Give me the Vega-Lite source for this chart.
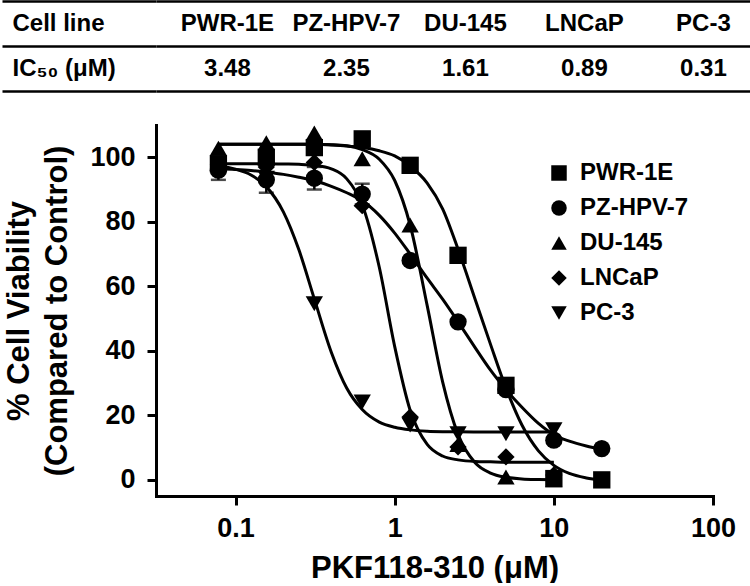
{
  "$schema": "https://vega.github.io/schema/vega-lite/v6.json",
  "padding": {"left": 0, "top": -11, "right": 0, "bottom": 0},
  "background": "white",
  "spacing": 32,
  "config": {
    "view": {"stroke": null},
    "font": "Liberation Sans",
    "axis": {
      "labelFont": "Liberation Sans",
      "titleFont": "Liberation Sans",
      "labelFontWeight": "bold",
      "titleFontWeight": "bold",
      "labelColor": "black",
      "titleColor": "black",
      "domainColor": "black",
      "tickColor": "black",
      "grid": false
    },
    "legend": {"labelFont": "Liberation Sans"}
  },
  "resolve": {"scale": {"shape": "independent"}, "legend": {"shape": "independent"}},
  "datasets": {
    "table": [
      {"row": "Cell line", "col": "PWR-1E", "label": "PWR-1E"},
      {"row": "Cell line", "col": "PZ-HPV-7", "label": "PZ-HPV-7"},
      {"row": "Cell line", "col": "DU-145", "label": "DU-145"},
      {"row": "Cell line", "col": "LNCaP", "label": "LNCaP"},
      {"row": "Cell line", "col": "PC-3", "label": "PC-3"},
      {"row": "IC₅₀ (μM)", "col": "PWR-1E", "label": "3.48"},
      {"row": "IC₅₀ (μM)", "col": "PZ-HPV-7", "label": "2.35"},
      {"row": "IC₅₀ (μM)", "col": "DU-145", "label": "1.61"},
      {"row": "IC₅₀ (μM)", "col": "LNCaP", "label": "0.89"},
      {"row": "IC₅₀ (μM)", "col": "PC-3", "label": "0.31"}
    ],
    "points": [
      {"line": "PWR-1E", "conc": 0.078, "v": 98, "err": 0},
      {"line": "PWR-1E", "conc": 0.156, "v": 100, "err": 0},
      {"line": "PWR-1E", "conc": 0.3125, "v": 103, "err": 0},
      {"line": "PWR-1E", "conc": 0.625, "v": 105.7, "err": 0},
      {"line": "PWR-1E", "conc": 1.25, "v": 97.5, "err": 0},
      {"line": "PWR-1E", "conc": 2.5, "v": 69.6, "err": 0},
      {"line": "PWR-1E", "conc": 5, "v": 29.3, "err": 0},
      {"line": "PWR-1E", "conc": 10, "v": 0.4, "err": 0},
      {"line": "PWR-1E", "conc": 20, "v": 0, "err": 0},
      {"line": "DU-145", "conc": 0.078, "v": 102.8, "err": 0},
      {"line": "DU-145", "conc": 0.156, "v": 104.5, "err": 0},
      {"line": "DU-145", "conc": 0.3125, "v": 107.5, "err": 0},
      {"line": "DU-145", "conc": 0.625, "v": 99.5, "err": 0},
      {"line": "DU-145", "conc": 1.25, "v": 79, "err": 0},
      {"line": "DU-145", "conc": 2.5, "v": 11, "err": 0},
      {"line": "DU-145", "conc": 5, "v": 0.9, "err": 0},
      {"line": "DU-145", "conc": 10, "v": 0, "err": 0},
      {"line": "PZ-HPV-7", "conc": 0.078, "v": 96, "err": 3},
      {"line": "PZ-HPV-7", "conc": 0.156, "v": 93, "err": 4},
      {"line": "PZ-HPV-7", "conc": 0.3125, "v": 93.5, "err": 3.5},
      {"line": "PZ-HPV-7", "conc": 0.625, "v": 88.6, "err": 3.2},
      {"line": "PZ-HPV-7", "conc": 1.25, "v": 68, "err": 0},
      {"line": "PZ-HPV-7", "conc": 2.5, "v": 49, "err": 0},
      {"line": "PZ-HPV-7", "conc": 5, "v": 28, "err": 0},
      {"line": "PZ-HPV-7", "conc": 10, "v": 12.3, "err": 0},
      {"line": "PZ-HPV-7", "conc": 20, "v": 9.7, "err": 0},
      {"line": "LNCaP", "conc": 0.078, "v": 96.5, "err": 0},
      {"line": "LNCaP", "conc": 0.156, "v": 97, "err": 0},
      {"line": "LNCaP", "conc": 0.3125, "v": 98.4, "err": 0},
      {"line": "LNCaP", "conc": 0.625, "v": 85, "err": 0},
      {"line": "LNCaP", "conc": 1.25, "v": 19.5, "err": 0},
      {"line": "LNCaP", "conc": 2.5, "v": 10.2, "err": 0},
      {"line": "LNCaP", "conc": 5, "v": 7.1, "err": 0},
      {"line": "LNCaP", "conc": 10, "v": 1.5, "err": 0},
      {"line": "PC-3", "conc": 0.078, "v": 95.5, "err": 0},
      {"line": "PC-3", "conc": 0.156, "v": 93.5, "err": 0},
      {"line": "PC-3", "conc": 0.3125, "v": 54.6, "err": 0},
      {"line": "PC-3", "conc": 0.625, "v": 24.1, "err": 0},
      {"line": "PC-3", "conc": 1.25, "v": 17, "err": 0},
      {"line": "PC-3", "conc": 2.5, "v": 14.3, "err": 0},
      {"line": "PC-3", "conc": 5, "v": 14.3, "err": 0},
      {"line": "PC-3", "conc": 10, "v": 15.5, "err": 0}
    ],
    "curves": [
      {"line": "PWR-1E", "conc": 0.078, "v": 104},
      {"line": "PWR-1E", "conc": 0.1, "v": 104},
      {"line": "PWR-1E", "conc": 0.125, "v": 104},
      {"line": "PWR-1E", "conc": 0.156, "v": 104},
      {"line": "PWR-1E", "conc": 0.2, "v": 104},
      {"line": "PWR-1E", "conc": 0.25, "v": 104},
      {"line": "PWR-1E", "conc": 0.3125, "v": 104},
      {"line": "PWR-1E", "conc": 0.4, "v": 103.8},
      {"line": "PWR-1E", "conc": 0.5, "v": 103.5},
      {"line": "PWR-1E", "conc": 0.625, "v": 103},
      {"line": "PWR-1E", "conc": 0.8, "v": 102},
      {"line": "PWR-1E", "conc": 1, "v": 100.4},
      {"line": "PWR-1E", "conc": 1.25, "v": 97.3},
      {"line": "PWR-1E", "conc": 1.6, "v": 92},
      {"line": "PWR-1E", "conc": 2, "v": 84},
      {"line": "PWR-1E", "conc": 2.5, "v": 71.5},
      {"line": "PWR-1E", "conc": 3.2, "v": 56},
      {"line": "PWR-1E", "conc": 4, "v": 42},
      {"line": "PWR-1E", "conc": 5, "v": 28.5},
      {"line": "PWR-1E", "conc": 6.3, "v": 17},
      {"line": "PWR-1E", "conc": 8, "v": 9},
      {"line": "PWR-1E", "conc": 10, "v": 4.5},
      {"line": "PWR-1E", "conc": 12.5, "v": 2},
      {"line": "PWR-1E", "conc": 16, "v": 0.6},
      {"line": "PWR-1E", "conc": 20, "v": -0.1},
      {"line": "DU-145", "conc": 0.078, "v": 104},
      {"line": "DU-145", "conc": 0.1, "v": 104},
      {"line": "DU-145", "conc": 0.125, "v": 104},
      {"line": "DU-145", "conc": 0.156, "v": 104},
      {"line": "DU-145", "conc": 0.2, "v": 104},
      {"line": "DU-145", "conc": 0.25, "v": 104},
      {"line": "DU-145", "conc": 0.3125, "v": 104},
      {"line": "DU-145", "conc": 0.4, "v": 103.9},
      {"line": "DU-145", "conc": 0.5, "v": 103.6},
      {"line": "DU-145", "conc": 0.625, "v": 102.4},
      {"line": "DU-145", "conc": 0.8, "v": 99.4},
      {"line": "DU-145", "conc": 1, "v": 92.8},
      {"line": "DU-145", "conc": 1.25, "v": 79},
      {"line": "DU-145", "conc": 1.6, "v": 54},
      {"line": "DU-145", "conc": 2, "v": 30.4},
      {"line": "DU-145", "conc": 2.5, "v": 14.1},
      {"line": "DU-145", "conc": 3.2, "v": 5.3},
      {"line": "DU-145", "conc": 4, "v": 2.1},
      {"line": "DU-145", "conc": 5, "v": 0.8},
      {"line": "DU-145", "conc": 6.3, "v": 0.3},
      {"line": "DU-145", "conc": 8, "v": 0.1},
      {"line": "DU-145", "conc": 10, "v": 0},
      {"line": "LNCaP", "conc": 0.078, "v": 98},
      {"line": "LNCaP", "conc": 0.1, "v": 98},
      {"line": "LNCaP", "conc": 0.125, "v": 98},
      {"line": "LNCaP", "conc": 0.156, "v": 98},
      {"line": "LNCaP", "conc": 0.2, "v": 97.9},
      {"line": "LNCaP", "conc": 0.25, "v": 97.8},
      {"line": "LNCaP", "conc": 0.3125, "v": 97.5},
      {"line": "LNCaP", "conc": 0.4, "v": 96.4},
      {"line": "LNCaP", "conc": 0.5, "v": 93.3},
      {"line": "LNCaP", "conc": 0.625, "v": 85.3},
      {"line": "LNCaP", "conc": 0.8, "v": 65.9},
      {"line": "LNCaP", "conc": 1, "v": 41.3},
      {"line": "LNCaP", "conc": 1.25, "v": 21.6},
      {"line": "LNCaP", "conc": 1.6, "v": 11},
      {"line": "LNCaP", "conc": 2, "v": 7.4},
      {"line": "LNCaP", "conc": 2.5, "v": 6.2},
      {"line": "LNCaP", "conc": 3.2, "v": 5.7},
      {"line": "LNCaP", "conc": 4, "v": 5.6},
      {"line": "LNCaP", "conc": 5, "v": 5.5},
      {"line": "LNCaP", "conc": 6.3, "v": 5.5},
      {"line": "LNCaP", "conc": 8, "v": 5.5},
      {"line": "LNCaP", "conc": 10, "v": 5.5},
      {"line": "PC-3", "conc": 0.078, "v": 97.3},
      {"line": "PC-3", "conc": 0.1, "v": 96.3},
      {"line": "PC-3", "conc": 0.125, "v": 94.5},
      {"line": "PC-3", "conc": 0.156, "v": 90.9},
      {"line": "PC-3", "conc": 0.2, "v": 83},
      {"line": "PC-3", "conc": 0.25, "v": 71.3},
      {"line": "PC-3", "conc": 0.3125, "v": 56.1},
      {"line": "PC-3", "conc": 0.4, "v": 39.5},
      {"line": "PC-3", "conc": 0.5, "v": 28.4},
      {"line": "PC-3", "conc": 0.625, "v": 21.8},
      {"line": "PC-3", "conc": 0.8, "v": 17.9},
      {"line": "PC-3", "conc": 1, "v": 16.3},
      {"line": "PC-3", "conc": 1.25, "v": 15.5},
      {"line": "PC-3", "conc": 1.6, "v": 15.1},
      {"line": "PC-3", "conc": 2, "v": 14.95},
      {"line": "PC-3", "conc": 2.5, "v": 14.9},
      {"line": "PC-3", "conc": 3.2, "v": 14.85},
      {"line": "PC-3", "conc": 4, "v": 14.8},
      {"line": "PC-3", "conc": 5, "v": 14.8},
      {"line": "PC-3", "conc": 6.3, "v": 14.8},
      {"line": "PC-3", "conc": 8, "v": 14.8},
      {"line": "PC-3", "conc": 10, "v": 14.8},
      {"line": "PZ-HPV-7", "conc": 0.078, "v": 96.4},
      {"line": "PZ-HPV-7", "conc": 0.1, "v": 96.2},
      {"line": "PZ-HPV-7", "conc": 0.125, "v": 95.9},
      {"line": "PZ-HPV-7", "conc": 0.156, "v": 95.4},
      {"line": "PZ-HPV-7", "conc": 0.2, "v": 94.7},
      {"line": "PZ-HPV-7", "conc": 0.25, "v": 93.8},
      {"line": "PZ-HPV-7", "conc": 0.3125, "v": 92.7},
      {"line": "PZ-HPV-7", "conc": 0.4, "v": 91},
      {"line": "PZ-HPV-7", "conc": 0.5, "v": 89},
      {"line": "PZ-HPV-7", "conc": 0.625, "v": 86.5},
      {"line": "PZ-HPV-7", "conc": 0.8, "v": 82},
      {"line": "PZ-HPV-7", "conc": 1, "v": 76.5},
      {"line": "PZ-HPV-7", "conc": 1.25, "v": 70},
      {"line": "PZ-HPV-7", "conc": 1.6, "v": 62.5},
      {"line": "PZ-HPV-7", "conc": 2, "v": 56},
      {"line": "PZ-HPV-7", "conc": 2.5, "v": 49},
      {"line": "PZ-HPV-7", "conc": 3.2, "v": 41},
      {"line": "PZ-HPV-7", "conc": 4, "v": 34},
      {"line": "PZ-HPV-7", "conc": 5, "v": 28},
      {"line": "PZ-HPV-7", "conc": 6.3, "v": 22.5},
      {"line": "PZ-HPV-7", "conc": 8, "v": 17.5},
      {"line": "PZ-HPV-7", "conc": 10, "v": 14},
      {"line": "PZ-HPV-7", "conc": 12.5, "v": 12},
      {"line": "PZ-HPV-7", "conc": 16, "v": 10.5},
      {"line": "PZ-HPV-7", "conc": 20, "v": 9.5}
    ]
  },
  "vconcat": [
    {
      "width": 595,
      "height": 90,
      "data": {"name": "table"},
      "mark": {"type": "text", "fontSize": 24, "fontWeight": "bold", "color": "black", "font": "Liberation Sans", "align": "center", "baseline": "middle"},
      "encoding": {
        "x": {
          "field": "col", "type": "nominal",
          "sort": ["PWR-1E", "PZ-HPV-7", "DU-145", "LNCaP", "PC-3"],
          "scale": {"type": "point", "paddingOuter": 0.3934, "align": 0.6},
          "axis": null
        },
        "y": {
          "field": "row", "type": "nominal",
          "sort": ["Cell line", "IC₅₀ (μM)"],
          "scale": {"paddingInner": 0, "paddingOuter": 0},
          "axis": {"title": null, "ticks": true, "tickSize": 154, "tickWidth": 2.5, "tickColor": "black", "domain": false, "labelAlign": "left", "labelBaseline": "middle", "labelPadding": -10, "labelFontSize": 24, "labelFontWeight": "bold", "labelColor": "black", "grid": true, "gridColor": "black", "gridWidth": 2.5, "tickBand": "extent"}
        },
        "text": {"field": "label"}
      }
    },
    {
      "width": 557,
      "height": 371,
      "encoding": {
        "x": {
          "field": "conc", "type": "quantitative",
          "scale": {"type": "log", "domain": [0.031623, 100], "nice": false},
          "axis": {"values": [0.1, 1, 10, 100], "format": "~g", "title": "PKF118-310 (μM)", "domainWidth": 3, "domainCap": "square", "tickWidth": 3, "tickSize": 9, "labelFontSize": 27, "labelPadding": 10, "titleFontSize": 31, "titlePadding": 12, "labelFlush": false}
        },
        "y": {
          "field": "v", "type": "quantitative",
          "scale": {"domain": [-5, 110], "nice": false, "zero": false},
          "axis": {"values": [0, 20, 40, 60, 80, 100], "title": ["% Cell Viability", "(Compared to Control)"], "domainWidth": 3, "domainCap": "square", "tickWidth": 3, "tickSize": 9, "labelFontSize": 27, "labelPadding": 12, "titleFontSize": 31, "titleLineHeight": 38, "titlePadding": 16, "labelFlush": false}
        }
      },
      "layer": [
        {
          "data": {"name": "curves"},
          "mark": {"type": "line", "interpolate": "monotone", "color": "black", "strokeWidth": 3},
          "encoding": {"detail": {"field": "line", "type": "nominal"}}
        },
        {
          "data": {"name": "points"},
          "transform": [{"filter": "datum.err > 0"}],
          "mark": {"type": "errorbar", "color": "black", "thickness": 2.5, "ticks": {"size": 15, "thickness": 2.5, "color": "black"}},
          "encoding": {"yError": {"field": "err"}}
        },
        {
          "data": {"name": "points"},
          "mark": {"type": "point", "filled": true, "size": 300, "opacity": 1, "color": "black"},
          "encoding": {
            "shape": {
              "field": "line", "type": "nominal",
              "scale": {"domain": ["PWR-1E", "PZ-HPV-7", "DU-145", "LNCaP", "PC-3"], "range": ["square", "circle", "triangle-up", "diamond", "triangle-down"]},
              "legend": {"title": null, "orient": "none", "legendX": 391, "legendY": 36, "padding": 0, "labelFontSize": 24, "labelFontWeight": "bold", "labelColor": "black", "symbolSize": 240, "symbolFillColor": "black", "symbolStrokeColor": "black", "symbolOpacity": 1, "rowPadding": 11, "labelOffset": 9}
            }
          }
        }
      ]
    }
  ]
}
